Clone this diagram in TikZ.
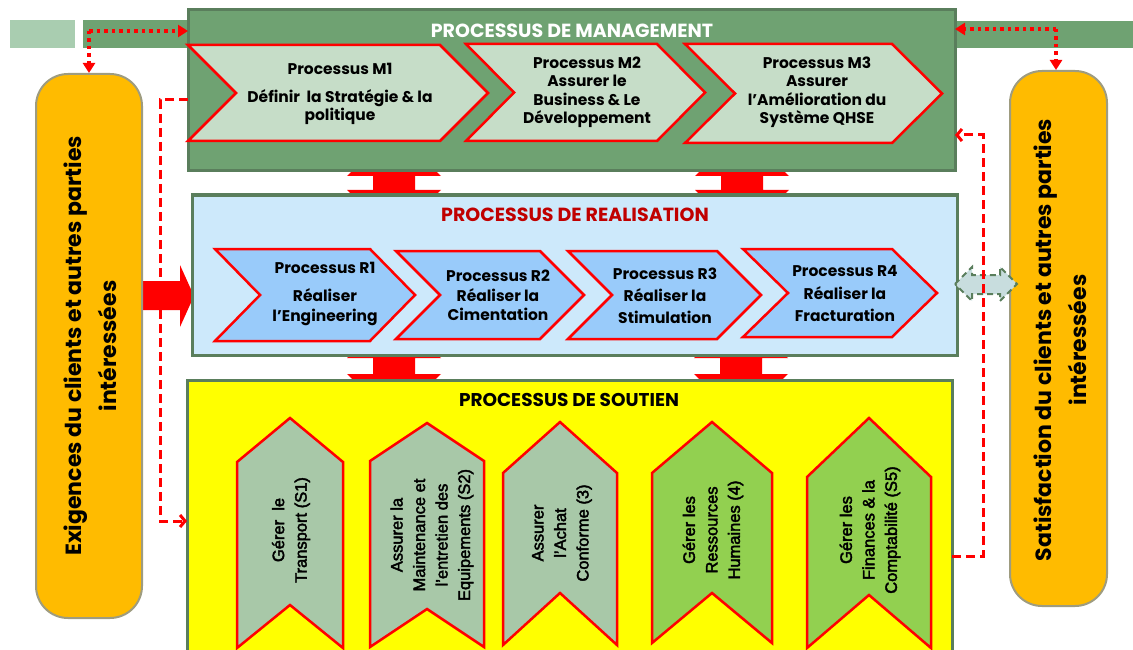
\documentclass[tikz,border=0pt]{standalone}
\usepackage{fontspec}
\newfontfamily\gothic{Poppins}
\newfontfamily\arialf{Liberation Sans}[FakeBold=2.5]
\usetikzlibrary{arrows.meta}

\definecolor{mgmtgreen}{HTML}{6FA272}
\definecolor{boxedge}{HTML}{5A7E5C}
\definecolor{bandlight}{HTML}{A9CDB0}
\definecolor{mchev}{HTML}{C6DDC8}
\definecolor{realfill}{HTML}{CDE9FB}
\definecolor{rchev}{HTML}{99CBFA}
\definecolor{sage}{HTML}{A8C8A8}
\definecolor{leafgreen}{HTML}{92D050}
\definecolor{amber}{HTML}{FFBB00}
\definecolor{amberedge}{HTML}{9E9C80}
\definecolor{titlered}{HTML}{C00000}
\definecolor{linkgray}{HTML}{C8DDDE}
\definecolor{brightyellow}{HTML}{FFFF00}

% horizontal chevron: left x, right x, top y, bottom y, tip depth, fill
\newcommand\hchev[6]{%
  \filldraw[chevron, fill=#6] (#1,#3) -- (#2,#3) -- ({#2+#5},{(#3+#4)/2}) -- (#2,#4)
    -- (#1,#4) -- ({#1+#5},{(#3+#4)/2}) -- cycle;}
% upward chevron: centre x, half width, tip y, shoulder y, bottom y, notch depth, fill
\newcommand\vchev[7]{%
  \filldraw[chevron, fill=#7] (#1,#3) -- ({#1+#2},#4) -- ({#1+#2},#5) -- (#1,{#5-#6})
    -- ({#1-#2},#5) -- ({#1-#2},#4) -- cycle;}
% vertical two-headed block arrow: centre x, upper head base y, lower head base y
\newcommand\twinblock[3]{%
  \fill[red] ({#1-21},#2) -- ({#1-47},#2) -- (#1,{#2-45}) -- ({#1+47},#2) -- ({#1+21},#2)
    -- ({#1+21},#3) -- ({#1+47},#3) -- (#1,{#3+45}) -- ({#1-47},#3) -- ({#1-21},#3) -- cycle;}

\begin{document}
\begin{tikzpicture}[x=1pt,y=-1pt,
  panel/.style={draw=boxedge, line width=3pt, anchor=north west, inner sep=0pt, outer sep=0pt},
  chevron/.style={draw=red, line width=2.5pt, line join=miter},
  ptitle/.style={font=\gothic\bfseries\fontsize{19}{22}\selectfont, inner sep=0pt},
  mtext/.style={font=\gothic\bfseries\fontsize{15.5}{#1}\selectfont, align=center, inner sep=0pt},
  mtext/.default=18.5,
  stext/.style={font=\arialf\fontsize{16.5}{22.5}\selectfont, align=center, rotate=90, inner sep=0pt},
  sidebox/.style={draw=amberedge, fill=amber, line width=2pt, rounded corners=32pt, inner sep=0pt},
  sidetext/.style={font=\gothic\bfseries\fontsize{22}{35}\selectfont, align=center, rotate=90, inner sep=0pt},
  dotlink/.style={draw=red, line width=3.5pt, dash pattern=on 3.5pt off 4pt, -{Triangle[length=10pt,width=12pt]}},
  dashlink/.style={draw=red, line width=3pt, dash pattern=on 9pt off 5pt, -{Straight Barb[length=5pt,width=12pt]}},
]
\useasboundingbox (0,0) rectangle (1133,650);
\clip (0,0) rectangle (1133,650);

% top band
\fill[bandlight] (10,20) rectangle (75,48);
\fill[mgmtgreen] (83,20) rectangle (190,48);
\fill[mgmtgreen] (953,21) rectangle (1133,48);

% block arrows between the three levels
\twinblock{394}{176}{190}
\twinblock{742}{176}{190}
\twinblock{394}{358}{374}
\twinblock{741}{358}{374}
\fill[red] (142,281) -- (180,281) -- (180,265) -- (194,296) -- (180,327) -- (180,310) -- (142,310) -- cycle;

% the three process panels
\node[panel, fill=mgmtgreen, minimum width=767pt, minimum height=161pt] (mgmt) at (188,10) {};
\node[panel, fill=realfill, minimum width=765pt, minimum height=160pt] (real) at (192,195) {};
\node[panel, fill=brightyellow, minimum width=765pt, minimum height=290pt] (sout) at (187,380) {};

\node[ptitle, text=white] (mgmtT) at (572,31) {PROCESSUS DE MANAGEMENT};
\node[ptitle, text=titlered] (realT) at (575,215) {PROCESSUS DE REALISATION};
\node[ptitle, font=\gothic\bfseries\fontsize{18.5}{21}\selectfont] (soutT) at (569,400) {PROCESSUS DE SOUTIEN};

% management processes
\hchev{188}{440}{45}{141}{48}{mchev}
\hchev{466}{657}{44}{141}{48}{mchev}
\hchev{685}{892}{44}{143}{50}{mchev}
\node[mtext] (m1) at (340,94) {Processus M1\\[9pt]Définir \ la Stratégie \& la\\politique};
\node[mtext] (m2) at (587,92.5) {Processus M2\\Assurer le\\Business \& Le\\Développement};
\node[mtext] (m3) at (817,92.5) {Processus M3\\Assurer\\l’Amélioration du\\Système QHSE};

% realisation processes
\hchev{215}{370}{249}{341}{45}{rchev}
\hchev{396}{540}{251}{339}{44}{rchev}
\hchev{568}{717}{251}{339}{44}{rchev}
\hchev{743}{892}{249}{337}{45}{rchev}
\node[mtext=20] (r1) at (325,294) {Processus R1\\[8pt]Réaliser\\l’Engineering};
\node[mtext=19.5] (r2) at (498,295.5) {Processus R2\\Réaliser la\\Cimentation};
\node[mtext=22] (r3) at (665,296) {Processus R3\\Réaliser la\\Stimulation};
\node[mtext=22.5] (r4) at (845,293.5) {Processus R4\\Réaliser la\\Fracturation};

% support processes
\vchev{290}{53}{418}{462}{648}{43}{sage}
\vchev{427}{57}{423}{461}{647}{38}{sage}
\vchev{560}{57}{422}{473}{645}{52}{sage}
\vchev{712}{60}{422}{473}{643}{50}{leafgreen}
\vchev{869}{62}{418}{477}{648}{53}{leafgreen}
\node[stext] (s1) at (291,530) {Gérer \ le\\Transport (S1)};
\node[stext] (s2) at (432,535) {Assurer la\\Maintenance et\\l’entretien des\\Equipements (S2)};
\node[stext] (s3) at (562,533) {Assurer\\l’Achat\\Conforme (3)};
\node[stext] (s4) at (713,530) {Gérer les\\Ressources\\Humaines (4)};
\node[stext] (s5) at (870,530) {Gérer les\\Finances \& la\\Comptabilité (S5)};

% stakeholders
\node[sidebox, minimum width=106pt, minimum height=544pt] (exig) at (89,346) {};
\node[sidetext] (exigT) at (90.5,346) {Exigences du clients et autres parties\\intéressées};
\node[sidebox, minimum width=97pt, minimum height=535pt] (satis) at (1058.5,338.5) {};
\node[sidetext] (satisT) at (1060,340) {Satisfaction du clients et autres parties\\intéressées};

% exchange between realisation and satisfaction
\filldraw[fill=linkgray, draw=boxedge, line width=2pt, dash pattern=on 6pt off 4pt]
  (955,284) -- (972,267) -- (972,275) -- (1000,275) -- (1000,267) -- (1017,284)
  -- (1000,301) -- (1000,294) -- (972,294) -- (972,301) -- cycle;

% information flows
\coordinate (tl) at (89,31);
\draw[dotlink] (tl) -- (tl -| mgmt.west);
\draw[dotlink] (tl) -- (tl |- exig.north);
\coordinate (tr) at (1056,29);
\draw[dotlink] (tr) -- (tr -| mgmt.east);
\draw[dotlink] (tr) -- (tr |- satis.north);

\coordinate (lA) at (mgmt.west |- 0,100);
\coordinate (lB) at (sout.west |- 0,521);
\draw[dashlink] (lA) -| (160,521) -- (lB);
\coordinate (rA) at (sout.east |- 0,556);
\coordinate (rB) at (mgmt.east |- 0,135);
\draw[dashlink] (rA) -| (983,135) -- (rB);
\end{tikzpicture}
\end{document}
